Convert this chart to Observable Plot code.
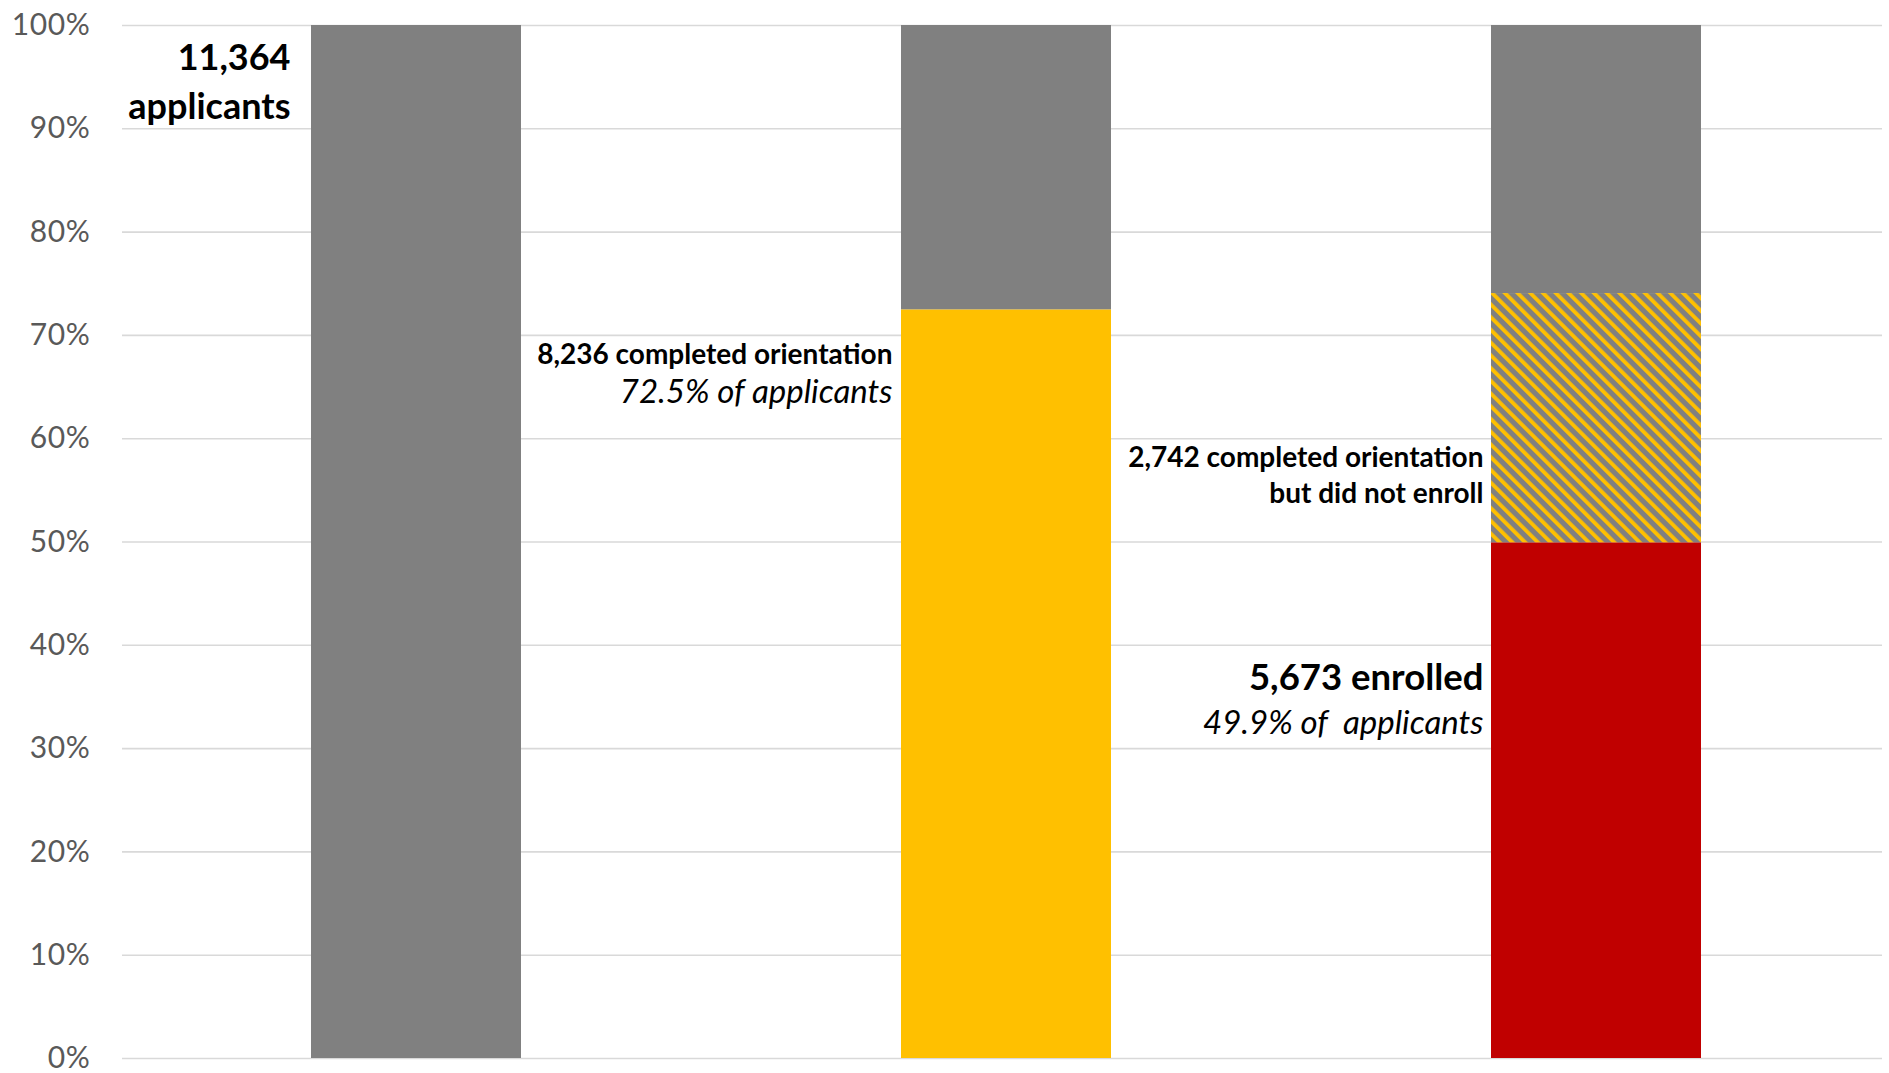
<!DOCTYPE html>
<html>
<head>
<meta charset="utf-8">
<script src="https://cdn.jsdelivr.net/npm/d3@7"></script>
<script src="https://cdn.jsdelivr.net/npm/@observablehq/plot@0.6"></script>
<style>
  html, body { margin: 0; padding: 0; background: #fff; }
  #chart svg text { white-space: pre; }
  #chart svg g[aria-label="y-axis tick label"] text { letter-spacing: 0.6px; }
</style>
</head>
<body>
<div id="chart"></div>
<script>
// ---- data ----
const stages = ["Applied", "Completed orientation", "Enrolled"];
const applicants = 11364;
const completedOrientation = 8236;
const enrolled = 5673;
const completedNotEnrolled = 2742;

const segmentNames = [
  "Applicants",
  "Completed orientation",
  "Did not complete orientation",
  "Enrolled",
  "Completed orientation but did not enroll",
  "Remaining applicants"
];
const segmentStages = [stages[0], stages[1], stages[1], stages[2], stages[2], stages[2]];
const segmentCounts = [
  applicants,
  completedOrientation,
  applicants - completedOrientation,
  enrolled,
  completedNotEnrolled,
  applicants - enrolled - completedNotEnrolled
];

const rows = segmentNames.map((segment, i) => ({
  stage: segmentStages[i],
  segment,
  count: segmentCounts[i],
  share: segmentCounts[i] / applicants
}));

const fmt = d3.format(",");
const pct = d3.format(".1%");
const shareCompleted = completedOrientation / applicants;
const shareEnrolled = enrolled / applicants;

const one = [0];

const svg = Plot.plot({
  width: 1889,
  height: 1073,
  marginLeft: 122,
  marginRight: 7,
  marginTop: 25,
  marginBottom: 15,
  style: {fontFamily: "Lato, sans-serif", fontSize: "30px", color: "#595959", background: "#fff", overflow: "visible"},
  x: {domain: stages, paddingInner: 0.644, paddingOuter: 0.3135, align: 0.512, axis: null},
  y: {domain: [0, 1], label: null},
  color: {
    type: "ordinal",
    domain: segmentNames,
    range: ["#808080", "#FFC000", "#808080", "#C00000", "url(#hatch)", "#808080"]
  },
  marks: [
    Plot.gridY({ticks: 10, stroke: "#d9d9d9", strokeOpacity: 1, strokeWidth: 1.6}),
    Plot.axisY({ticks: 10, tickFormat: d3.format(".0%"), tickSize: 0, tickPadding: 32, fill: "#595959", fontSize: 30, label: null}),
    Plot.barY(rows, {x: "stage", y: "share", fill: "segment"}),
    // label: applicants
    Plot.text(one, {
      x: () => stages[0], y: () => 1,
      text: () => `${fmt(applicants)}\napplicants`,
      textAnchor: "end", lineAnchor: "bottom", lineHeight: 1.34,
      fontSize: 36, fontWeight: "bold", fill: "#000", dx: -126, dy: 93
    }),
    // label: completed orientation
    Plot.text(one, {
      x: () => stages[1], y: () => shareCompleted,
      text: () => `${fmt(completedOrientation)} completed orientation`,
      textAnchor: "end", lineAnchor: "bottom",
      fontSize: 28, fontWeight: "bold", fill: "#000", dx: -114, dy: 54
    }),
    Plot.text(one, {
      x: () => stages[1], y: () => shareCompleted,
      text: () => `${pct(shareCompleted)} of applicants`,
      textAnchor: "end", lineAnchor: "bottom",
      fontSize: 33, fontStyle: "italic", fill: "#000", dx: -114, dy: 93
    }),
    // label: completed but not enrolled
    Plot.text(one, {
      x: () => stages[2], y: () => shareEnrolled,
      text: () => `${fmt(completedNotEnrolled)} completed orientation\nbut did not enroll`,
      textAnchor: "end", lineAnchor: "bottom", lineHeight: 1.27,
      fontSize: 28, fontWeight: "bold", fill: "#000", dx: -113, dy: -40.3
    }),
    // label: enrolled
    Plot.text(one, {
      x: () => stages[2], y: () => shareEnrolled,
      text: () => `${fmt(enrolled)} enrolled`,
      textAnchor: "end", lineAnchor: "bottom",
      fontSize: 36.5, fontWeight: "bold", fill: "#000", dx: -113, dy: 147.5
    }),
    Plot.text(one, {
      x: () => stages[2], y: () => shareEnrolled,
      text: () => `${pct(shareEnrolled)} of  applicants`,
      textAnchor: "end", lineAnchor: "bottom",
      fontSize: 33, fontStyle: "italic", fill: "#000", dx: -113, dy: 191
    })
  ]
});

// hatch pattern for the "completed but did not enroll" segment
const defs = d3.select(svg).insert("defs", ":first-child");
const pat = defs.append("pattern")
  .attr("id", "hatch")
  .attr("patternUnits", "userSpaceOnUse")
  .attr("width", 9)
  .attr("height", 9)
  .attr("patternTransform", "rotate(-45)");
pat.append("rect").attr("width", 9).attr("height", 9).attr("fill", "#808080");
pat.append("rect").attr("width", 3.8).attr("height", 9).attr("fill", "#FFC000");

document.getElementById("chart").appendChild(svg);
</script>
</body>
</html>
